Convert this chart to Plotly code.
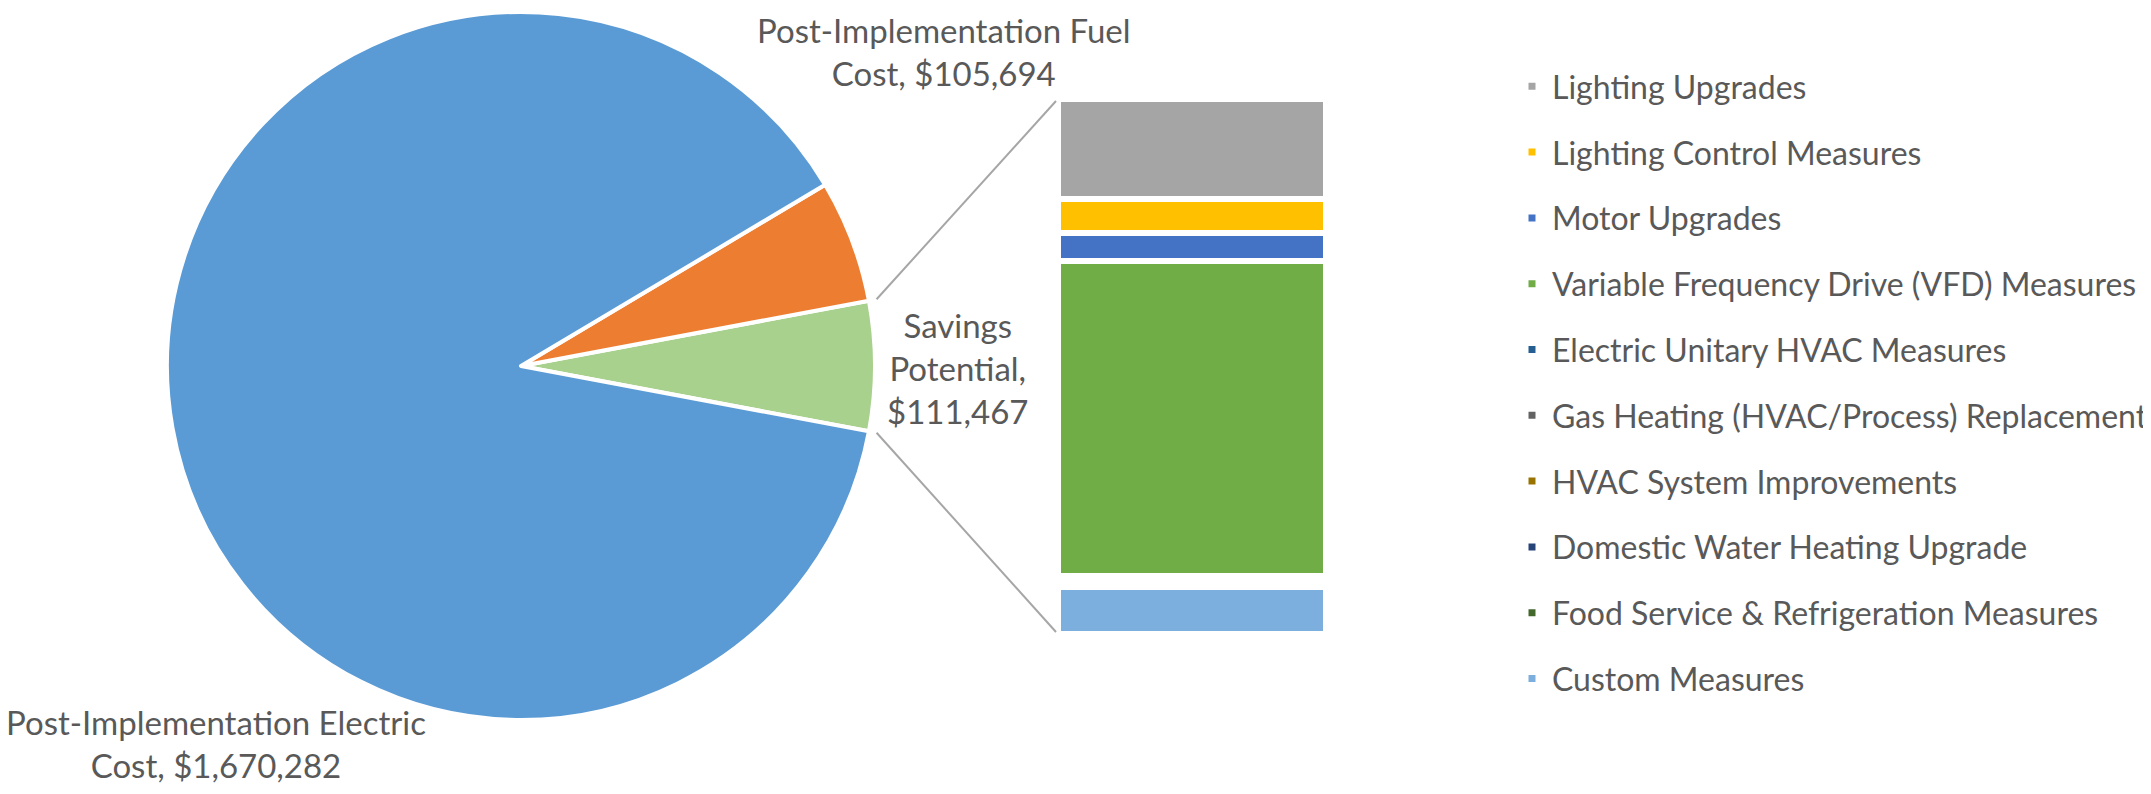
import math
import plotly.graph_objects as go

# Pie data
pie_labels = ['Savings Potential', 'Post-Implementation Fuel Cost', 'Post-Implementation Electric Cost']
pie_values = [111467, 105694, 1670282]
pie_colors = ['#A9D18E', '#ED7D31', '#5B9BD5']

# Breakdown of the savings slice (top of the stack first)
measures = ['Lighting Upgrades', 'Lighting Control Measures', 'Motor Upgrades',
            'Variable Frequency Drive (VFD) Measures', 'Electric Unitary HVAC Measures',
            'Gas Heating (HVAC/Process) Replacement', 'HVAC System Improvements',
            'Domestic Water Heating Upgrade', 'Food Service & Refrigeration Measures',
            'Custom Measures']
measure_values = [20850, 7050, 5880, 65610, 535, 0, 880, 310, 610, 9740]
measure_colors = ['#A5A5A5', '#FFC000', '#4472C4', '#70AD47', '#255E91',
                  '#636363', '#997300', '#264478', '#43682B', '#7CAFDD']

# the page body adds an 8px margin on every side; keep the figure inside the window
OFF = 8
W, H = 2151 - 2 * OFF, 794 - 2 * OFF
font_name = 'Lato'
grey_text = '#595959'


def fx(x):
    return (x - OFF) / W


def fy(y):
    return 1 - (y - OFF) / H


total = sum(pie_values)
savings_angle = 360 * pie_values[0] / total

fig = go.Figure()

# Pie
pie_cx, pie_cy, pie_r = 521, 366, 354
fig.add_trace(go.Pie(
    labels=pie_labels,
    values=pie_values,
    sort=False,
    direction='counterclockwise',
    rotation=90 - savings_angle / 2,
    marker=dict(colors=pie_colors, line=dict(color='white', width=4)),
    textinfo='none',
    hoverinfo='label+value',
    showlegend=False,
    domain=dict(x=[fx(pie_cx - pie_r), fx(pie_cx + pie_r)],
                y=[fy(pie_cy + pie_r), fy(pie_cy - pie_r)]),
))

# Stacked bar (y axis reversed so the first measure sits on top)
for name, val, col in zip(measures, measure_values, measure_colors):
    fig.add_trace(go.Bar(
        x=[0], y=[val], width=1, name=name, legendgroup=name,
        marker=dict(color=col, line=dict(color='white', width=6)),
        hoverinfo='name+y',
    ))

bar_x0, bar_x1 = 1058, 1326
bar_top, bar_bottom = 99, 634
fig.update_xaxes(domain=[fx(bar_x0), fx(bar_x1)], range=[-0.5, 0.5], visible=False)
fig.update_yaxes(domain=[fy(bar_bottom), fy(bar_top)], range=[sum(measure_values), 0],
                 visible=False)

# Connector lines from the savings slice to the bar
half = math.radians(savings_angle / 2)
r_out = pie_r * 1.022
for sgn, by in [(1, bar_top + 2), (-1, bar_bottom - 2)]:
    px = pie_cx + r_out * math.cos(half)
    py = pie_cy - sgn * r_out * math.sin(half)
    fig.add_shape(type='line', xref='paper', yref='paper',
                  x0=fx(px), y0=fy(py), x1=fx(bar_x0 - 2), y1=fy(by),
                  line=dict(color='#A6A6A6', width=2))

# Pie labels
label_font = dict(family=font_name, size=33, color=grey_text)
labels = [
    (944, 51, 'Post-Implementation Fuel<br>Cost, ${:,}'.format(pie_values[1])),
    (957, 368, 'Savings<br>Potential,<br>${:,}'.format(pie_values[0])),
    (216, 743, 'Post-Implementation Electric<br>Cost, ${:,}'.format(pie_values[2])),
]
for lx, ly, txt in labels:
    fig.add_annotation(x=fx(lx), y=fy(ly), xref='paper', yref='paper', text=txt,
                       showarrow=False, font=label_font, align='center', borderpad=0,
                       xanchor='center', yanchor='middle')

fig.update_layout(
    width=W, height=H,
    margin=dict(l=0, r=0, t=0, b=0, autoexpand=False),
    paper_bgcolor='white', plot_bgcolor='white',
    barmode='stack', bargap=0,
    showlegend=True,
    legend=dict(x=fx(1512), y=fy(59), xanchor='left', yanchor='top',
                traceorder='grouped', tracegroupgap=21.2,
                font=dict(family=font_name, size=32, color=grey_text),
                bgcolor='rgba(0,0,0,0)'),
)

fig.write_html('out.html')
